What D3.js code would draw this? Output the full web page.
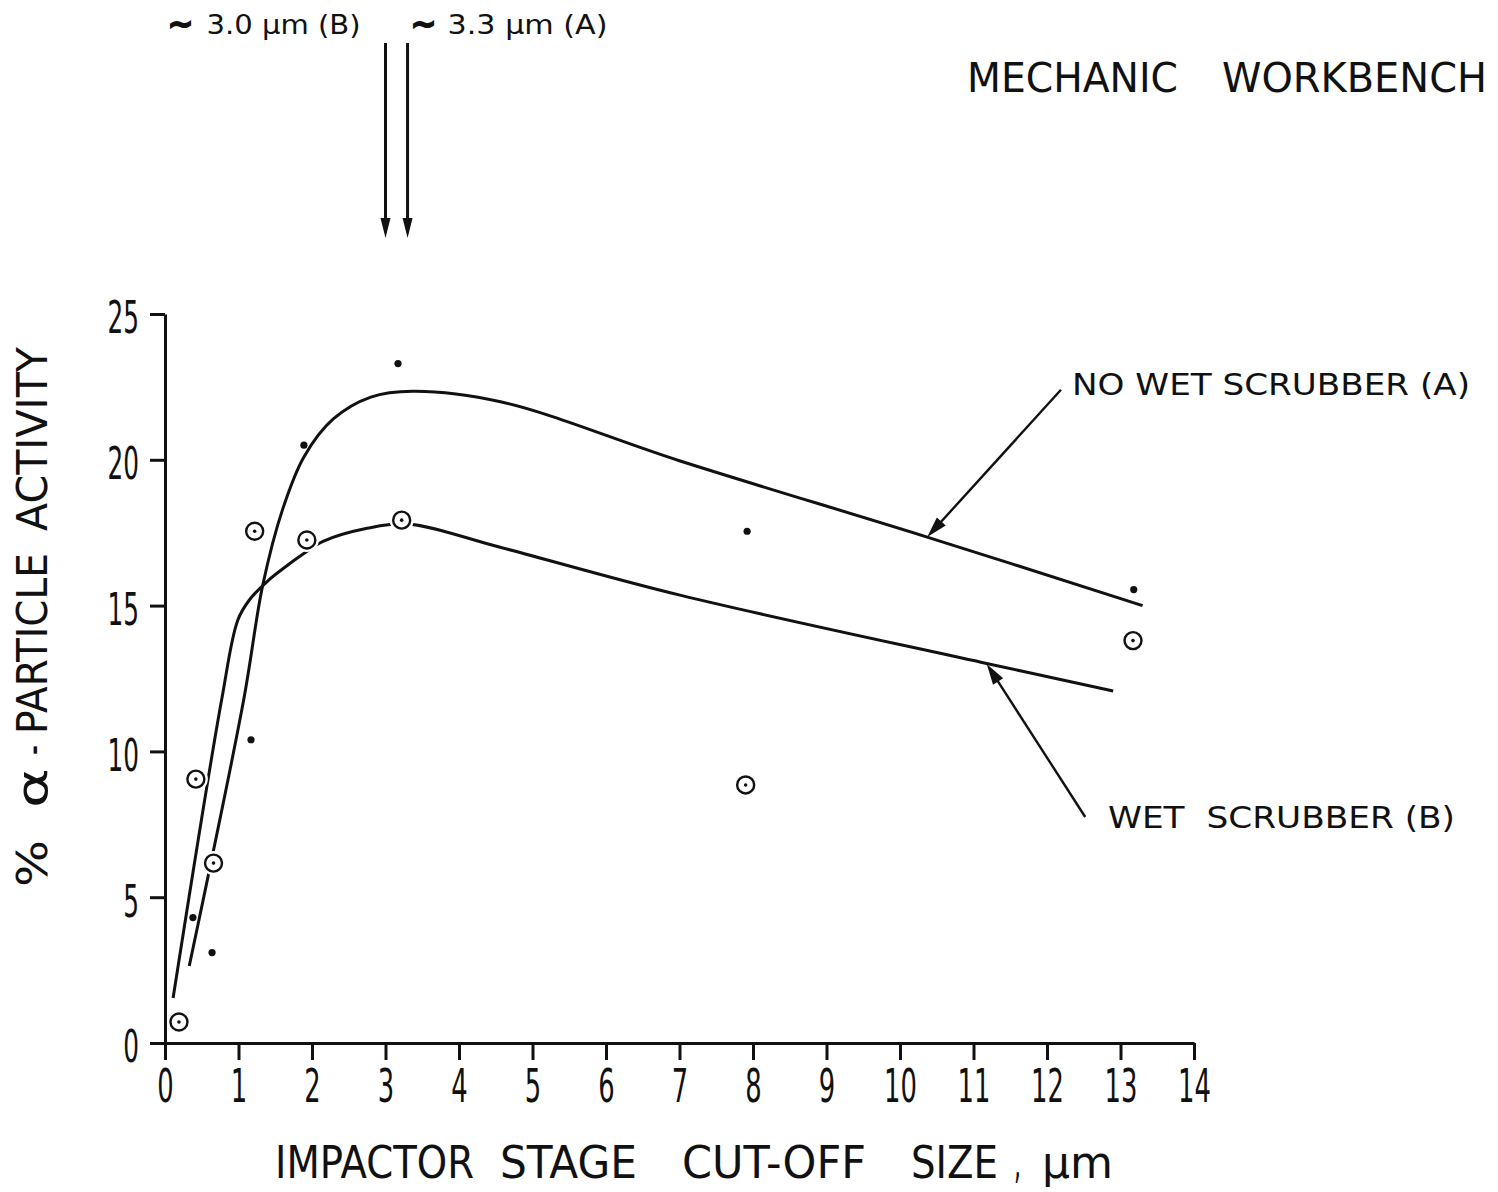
<!DOCTYPE html>
<html>
<head>
<meta charset="utf-8">
<script src="https://cdn.jsdelivr.net/npm/d3@7"></script>
<style>
  body { margin: 0; background: #fff; }
  svg text { font-family: "DejaVu Sans", "Liberation Sans", sans-serif; fill: #111; }
</style>
</head>
<body>
<svg id="chart" width="1498" height="1192"></svg>
<script>
// Axis tick values
const xTickValues = [0, 1, 2, 3, 4, 5, 6, 7, 8, 9, 10, 11, 12, 13, 14];
const yTickValues = [0, 5, 10, 15, 20, 25];

// (A) no wet scrubber — measured points (filled dots)
const noScrubberX = [0.38, 0.64, 1.17, 1.89, 3.17, 7.92, 13.18];
const noScrubberY = [4.3, 3.1, 10.4, 20.5, 23.3, 17.55, 15.55];

// (B) wet scrubber — measured points (ringed dots)
const scrubberX = [0.19, 0.42, 0.66, 1.22, 1.93, 3.22, 7.90, 13.17];
const scrubberY = [0.72, 9.05, 6.17, 17.55, 17.25, 17.93, 8.85, 13.8];

// Hand-fitted trend curves
const fitAX = [0.33, 1.07, 1.33, 1.60, 1.89, 2.29, 2.80, 3.37, 4.58, 7.02, 10.37, 13.3];
const fitAY = [2.64, 11.76, 15.7, 18.3, 20.1, 21.4, 22.15, 22.35, 21.98, 19.95, 17.35, 15.0];
const fitBX = [0.11, 0.77, 0.99, 1.15, 1.40, 1.65, 1.84, 2.15, 2.75, 3.3, 4.56, 7.02, 11.1, 12.9];
const fitBY = [1.54, 11.76, 14.5, 15.2, 15.85, 16.35, 16.7, 17.2, 17.65, 17.8, 17.0, 15.35, 13.06, 12.07];

// Peak cut-off sizes marked above the plot
const peakSizes = [3.0, 3.3];
const peakLabels = ["3.0 \u00B5m (B)", "3.3 \u00B5m (A)"];

// Word layout of the long captions: [word, left x, right x]
const xTitleWords = [["IMPACTOR", 275, 474], ["STAGE", 500, 637], ["CUT-OFF", 682, 866],
                     ["SIZE", 911, 998], [",", 1014, 1021], ["\u00B5m", 1042, 1113]];
// y title runs bottom-to-top: [word, bottom y, top y]
const yTitleWords = [["%", 887, 840], ["\u03B1", 808, 768], ["-", 755, 745],
                     ["PARTICLE", 734, 553], ["ACTIVITY", 531, 347]];
const titleWords = [["MECHANIC", 967, 1178], ["WORKBENCH", 1222, 1487]];

const svg = d3.select("#chart");
const ink = "#111";

const x = d3.scaleLinear().domain([0, 14]).range([165, 1194]);
const y = d3.scaleLinear().domain([0, 25]).range([1043, 314]);

// ---- axes ----
const gx = svg.append("g")
  .attr("transform", `translate(0,${y(0)})`)
  .call(d3.axisBottom(x).tickValues(xTickValues).tickSize(17).tickSizeOuter(0).tickFormat(d3.format("d")));
const gy = svg.append("g")
  .attr("transform", `translate(${x(0)},0)`)
  .call(d3.axisLeft(y).tickValues(yTickValues).tickSize(15).tickSizeOuter(0).tickFormat(d3.format("d")));

[gx, gy].forEach(g => {
  g.select(".domain").attr("stroke", ink).attr("stroke-width", 3);
  g.selectAll(".tick line").attr("stroke", ink).attr("stroke-width", 3);
  g.selectAll(".tick text")
    .attr("font-family", "DejaVu Sans, sans-serif")
    .attr("fill", ink);
});
const squeeze = 0.55;
gx.selectAll(".tick text")
  .attr("font-size", 47)
  .attr("y", 26)
  .attr("dy", "0.71em")
  .attr("transform", `scale(${squeeze},1)`);
gy.selectAll(".tick text")
  .attr("font-size", 45)
  .attr("x", -26 / squeeze)
  .attr("dy", "0.42em")
  .attr("transform", `scale(${squeeze},1)`);

// ---- axis titles ----
xTitleWords.forEach(([w, x0, x1]) => {
  svg.append("text")
    .attr("x", x0).attr("y", 1178)
    .attr("font-size", 45)
    .attr("textLength", x1 - x0)
    .attr("lengthAdjust", "spacingAndGlyphs")
    .text(w);
});
yTitleWords.forEach(([w, y0, y1]) => {
  svg.append("text")
    .attr("transform", `translate(47,${y0}) rotate(-90)`)
    .attr("font-size", 43)
    .attr("textLength", y0 - y1)
    .attr("lengthAdjust", "spacingAndGlyphs")
    .text(w);
});

// ---- title ----
titleWords.forEach(([w, x0, x1]) => {
  svg.append("text")
    .attr("x", x0).attr("y", 92)
    .attr("font-size", 41)
    .attr("textLength", x1 - x0)
    .attr("lengthAdjust", "spacingAndGlyphs")
    .text(w);
});

// ---- arrows ----
function arrow(g, x1, y1, x2, y2, headLen, headHalf, width) {
  const a = Math.atan2(y2 - y1, x2 - x1);
  const bx = x2 - headLen * Math.cos(a), by = y2 - headLen * Math.sin(a);
  g.append("line")
    .attr("x1", x1).attr("y1", y1)
    .attr("x2", bx + 3 * Math.cos(a)).attr("y2", by + 3 * Math.sin(a))
    .attr("stroke", ink).attr("stroke-width", width);
  const s = Math.sin(a), c = Math.cos(a);
  g.append("path")
    .attr("d", `M${x2},${y2}L${bx + headHalf * s},${by - headHalf * c}L${bx - headHalf * s},${by + headHalf * c}Z`)
    .attr("fill", ink);
}

const ann = svg.append("g");
peakSizes.forEach(p => arrow(ann, x(p), 43, x(p), 238, 20, 5, 3));

// labels for the peak arrows: a heavy tilde followed by the size
function peakLabel(tx, x0, x1, label) {
  ann.append("text")
    .attr("x", tx).attr("y", 34)
    .attr("font-size", 30)
    .attr("font-weight", "bold")
    .attr("stroke", ink)
    .attr("stroke-width", 1.6)
    .attr("textLength", 26)
    .attr("lengthAdjust", "spacingAndGlyphs")
    .text("\u223C");
  ann.append("text")
    .attr("x", x0).attr("y", 34)
    .attr("font-size", 26)
    .attr("textLength", x1 - x0)
    .attr("lengthAdjust", "spacingAndGlyphs")
    .text(label);
}
peakLabel(x(peakSizes[0]) - 218, x(peakSizes[0]) - 179, x(peakSizes[0]) - 25, peakLabels[0]);
peakLabel(x(peakSizes[1]) + 3, x(peakSizes[1]) + 40, x(peakSizes[1]) + 200, peakLabels[1]);

// ---- trend curves ----
const line = d3.line()
  .x(d => x(d[0])).y(d => y(d[1]))
  .curve(d3.curveCatmullRom.alpha(0.5));
const curves = svg.append("g").attr("fill", "none").attr("stroke", ink).attr("stroke-width", 3);
curves.append("path").attr("d", line(d3.zip(fitAX, fitAY)));
curves.append("path").attr("d", line(d3.zip(fitBX, fitBY)));

// ---- series labels with leaders ----
arrow(ann, x(12.19), y(22.4), x(10.37), y(17.35), 21, 6, 2.4);
ann.append("text")
  .attr("x", 1072).attr("y", 395)
  .attr("font-size", 31)
  .attr("textLength", 398)
  .attr("lengthAdjust", "spacingAndGlyphs")
  .text("NO WET SCRUBBER (A)");

arrow(ann, x(12.52), y(7.75), x(11.18), y(13.0), 21, 6, 2.4);
ann.append("text")
  .attr("x", 1108).attr("y", 828)
  .attr("font-size", 31)
  .attr("textLength", 347)
  .attr("lengthAdjust", "spacingAndGlyphs")
  .attr("xml:space", "preserve")
  .text("WET  SCRUBBER (B)");

// ---- data points ----
svg.append("g").selectAll("circle")
  .data(d3.zip(noScrubberX, noScrubberY))
  .join("circle")
  .attr("cx", d => x(d[0])).attr("cy", d => y(d[1]))
  .attr("r", 3.6).attr("fill", ink);

const rings = svg.append("g").selectAll("g")
  .data(d3.zip(scrubberX, scrubberY))
  .join("g")
  .attr("transform", d => `translate(${x(d[0])},${y(d[1])})`);
rings.append("circle").attr("r", 12).attr("fill", "#fff");
rings.append("circle").attr("r", 8.5).attr("fill", "#fff").attr("stroke", ink).attr("stroke-width", 2.4);
rings.append("circle").attr("r", 1.8).attr("fill", ink);
</script>
</body>
</html>
